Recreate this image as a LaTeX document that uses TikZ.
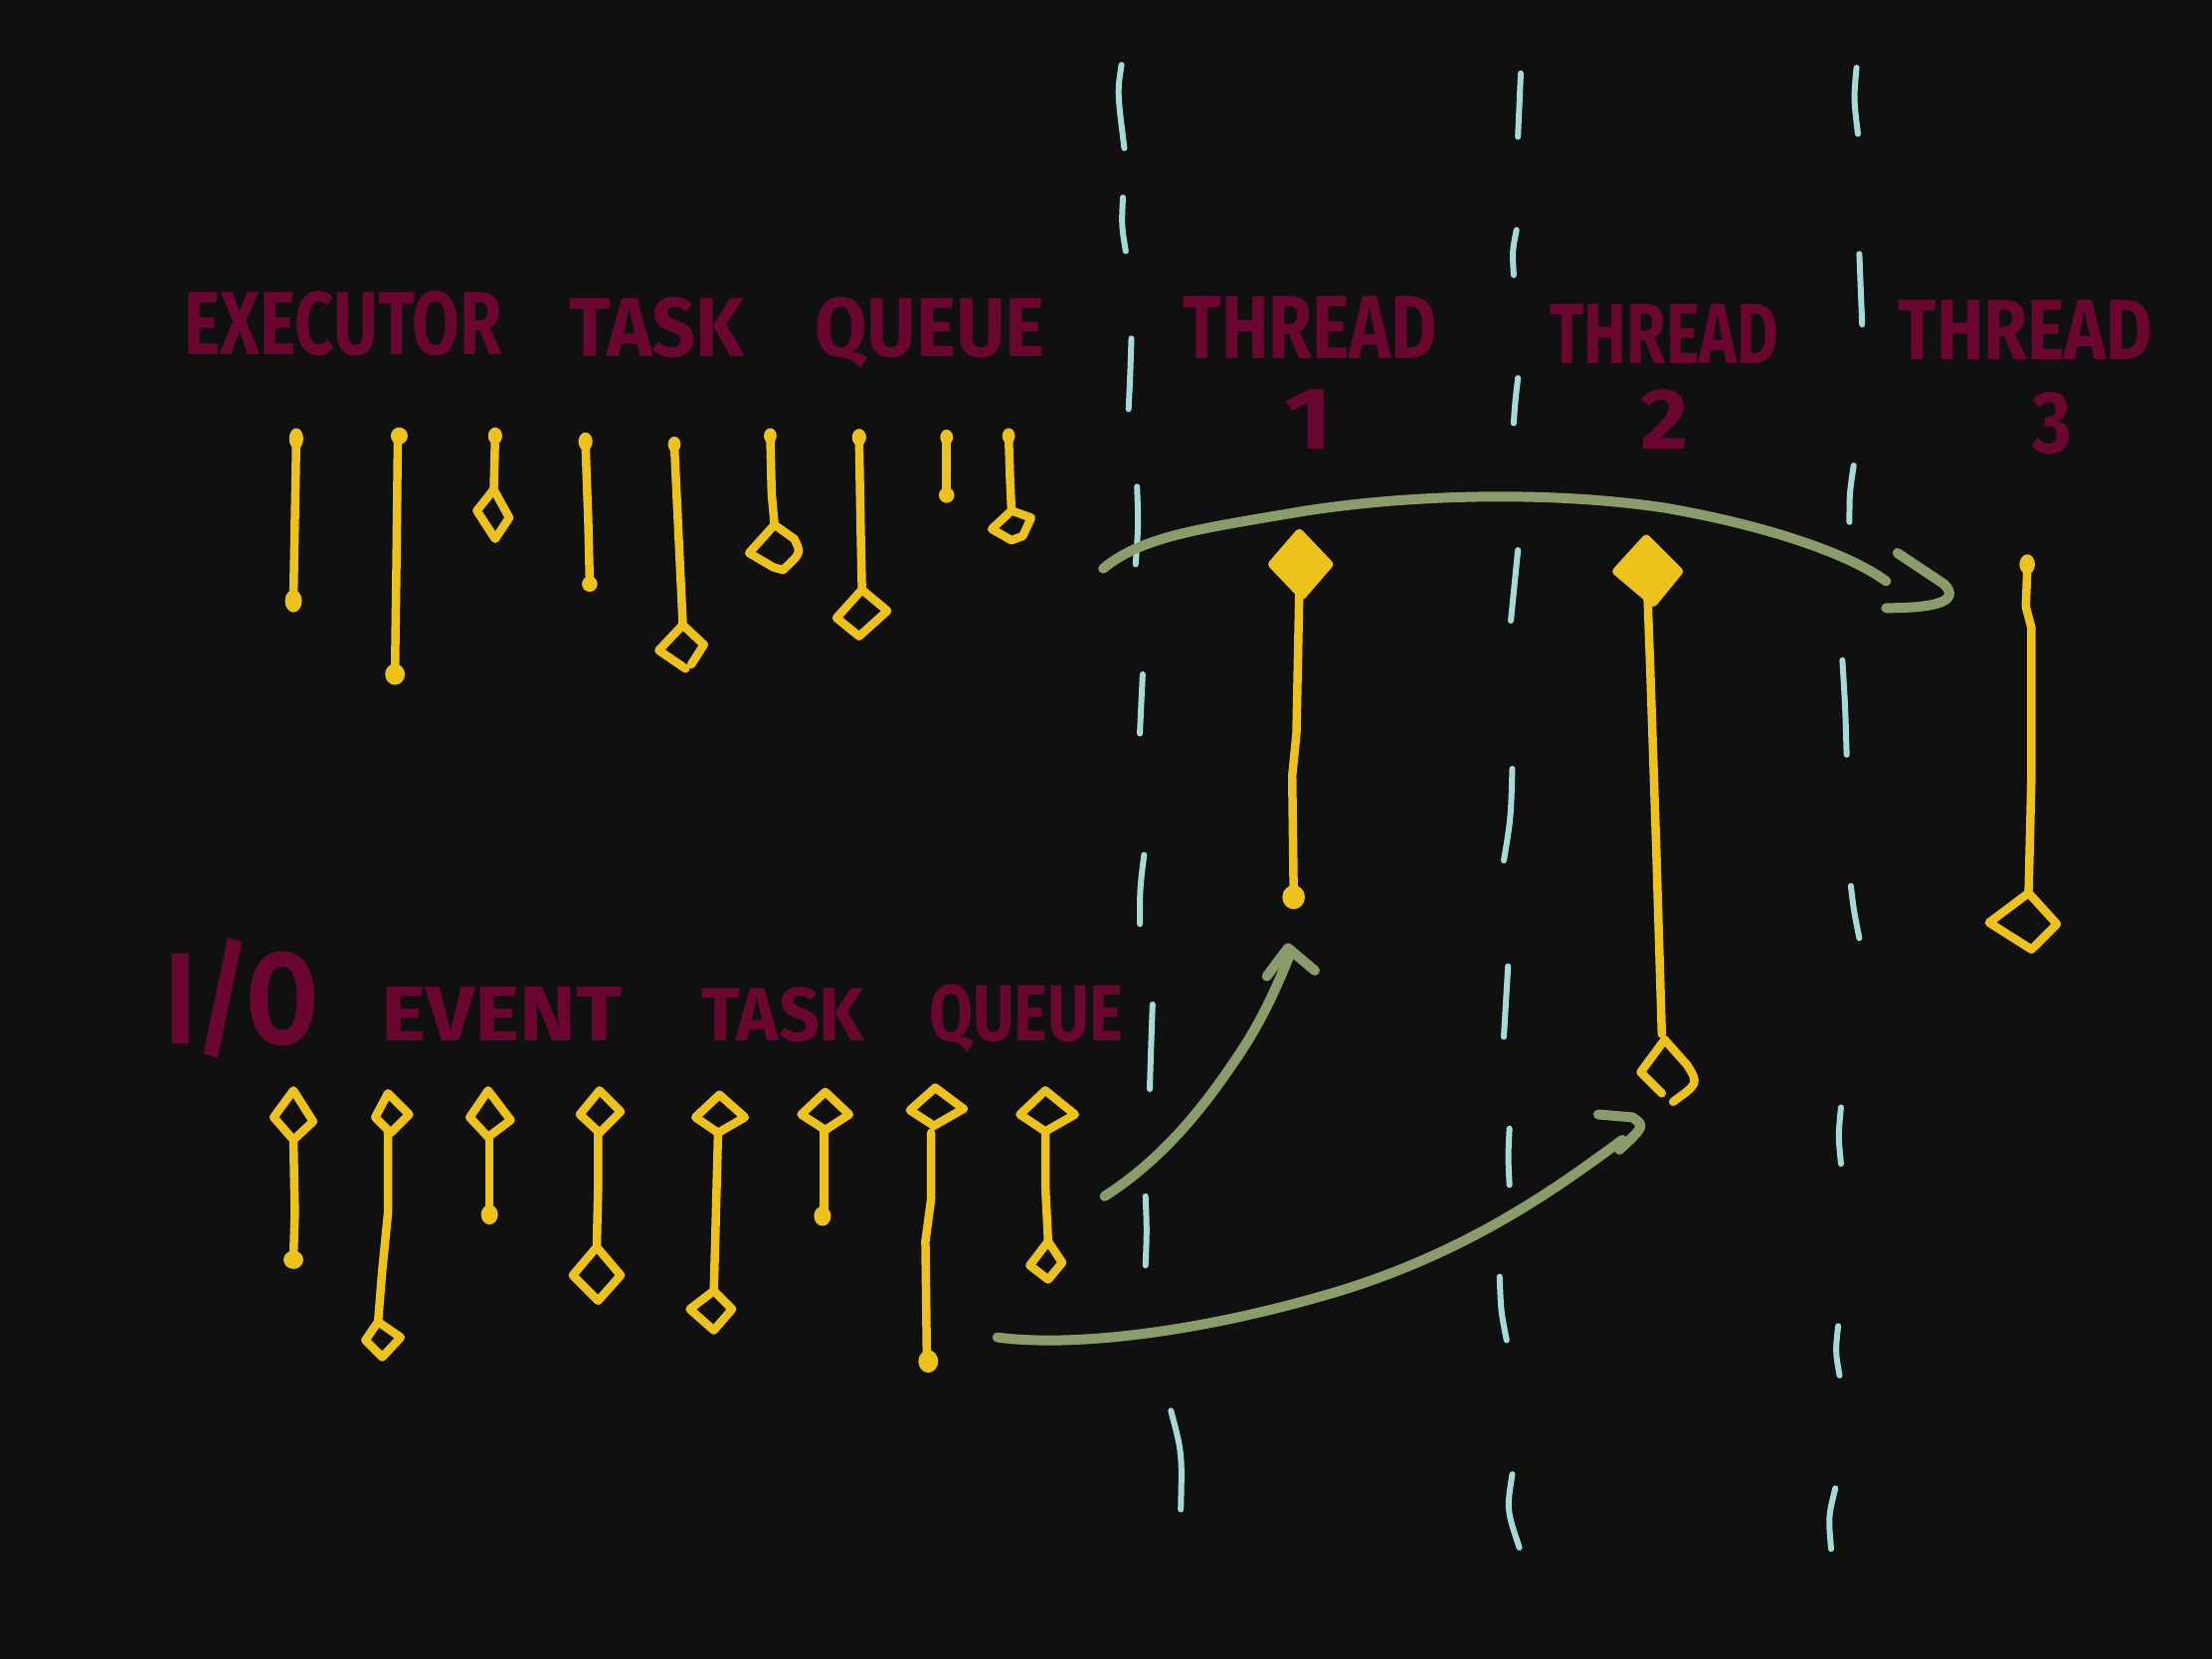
\documentclass[tikz,border=0pt]{standalone}
\usepackage{fontspec}
\setmainfont{Fira Sans}
\definecolor{bg}{HTML}{101010}
\definecolor{maroon}{HTML}{6B0630}
\definecolor{tyel}{HTML}{EDC21B}
\definecolor{lane}{HTML}{A6DAD9}
\definecolor{flow}{HTML}{8B9C6B}
\newcommand\handtext[3]{\resizebox{#1}{#2}{\bfseries #3}}
\tikzset{
  lbl/.style={text=maroon, inner sep=0pt, anchor=base west},
  task/.style={draw=tyel, line width=1.7pt, line cap=round, line join=round},
  solidtask/.style={draw=tyel, fill=tyel, line width=1.7pt, line join=round},
  lanedash/.style={draw=lane, line width=1.2pt, line cap=round},
  flowarrow/.style={draw=flow, line width=2pt, line cap=round, line join=round},
}
\begin{document}
\begin{tikzpicture}[x=0.01cm,y=-0.01cm]
\path[fill=bg] (0,0) rectangle (1568,1176);
\useasboundingbox (0,0) rectangle (1568,1176);

% thread lanes (dashed)
\foreach \xa/\ya/\xb/\yb/\xc/\yc in {
 795/46/792/65/797/105, 796/140/795/160/798/178, 802/240/801/270/800/290,
 806/345/807/372/805/400, 810/478/809/498/808/520, 811/606/808/630/808/655,
 817/712/816/740/815/772, 812/848/813/872/812/897, 830/1000/838/1030/837/1070,
 1078/52/1077/75/1076/97, 1075/163/1072/178/1073/195, 1076/268/1074/285/1073/300,
 1076/390/1073/415/1071/440, 1072/545/1071/580/1066/610, 1069/685/1068/710/1066/735,
 1070/800/1069/820/1070/840, 1063/905/1064/930/1068/950, 1072/1045/1068/1070/1077/1097,
 1316/48/1314/70/1317/95, 1318/180/1319/205/1320/230, 1314/330/1311/350/1311/370,
 1306/468/1308/500/1309/535, 1312/628/1314/645/1318/665, 1305/785/1303/805/1305/825,
 1303/940/1301/958/1304/975, 1301/1055/1296/1075/1298/1098}
 \draw[lanedash] (\xa,\ya) .. controls (\xb,\yb) .. (\xc,\yc);

% labels
\node[lbl] (lblExecutor) at (130,251) {\handtext{2.25cm}{0.45cm}{EXECUTOR}};
\node[lbl] (lblTaskA) at (403,253) {\handtext{1.24cm}{0.42cm}{TASK}};
\node[lbl] (lblQueueA) at (577,253) {\handtext{1.63cm}{0.42cm}{QUEUE}};
\node[lbl] (lblThreadA) at (838,254) {\handtext{1.80cm}{0.44cm}{THREAD}};
\node[lbl] (lblNumA) at (910,318) {\handtext{0.34cm}{0.42cm}{1}};
\node[lbl] (lblThreadB) at (1098,258) {\handtext{1.62cm}{0.42cm}{THREAD}};
\node[lbl] (lblNumB) at (1162,318) {\handtext{0.34cm}{0.42cm}{2}};
\node[lbl] (lblThreadC) at (1345,255) {\handtext{1.80cm}{0.42cm}{THREAD}};
\node[lbl] (lblNumC) at (1440,321) {\handtext{0.28cm}{0.43cm}{3}};
\node[lbl] (lblIO) at (117,740) {\handtext{1.08cm}{0.75cm}{I/O}};
\node[lbl] (lblEvent) at (270,738) {\handtext{1.70cm}{0.38cm}{EVENT}};
\node[lbl] (lblTaskB) at (497,738) {\handtext{1.15cm}{0.38cm}{TASK}};
\node[lbl] (lblQueueB) at (658,738) {\handtext{1.37cm}{0.40cm}{QUEUE}};

% arrows
\coordinate (fromExec) at (782,403);
\coordinate (toThreadC) at (1337,412);
\draw[flowarrow] (fromExec) .. controls (810,380) and (850,375) .. (920,363)
  .. controls (1000,350) and (1100,348) .. (1180,360)
  .. controls (1250,372) and (1310,392) .. (toThreadC);
\draw[flowarrow] (1345,392) -- (1378,414) .. controls (1392,428) and (1365,431) .. (1337,431);

\coordinate (fromIOa) at (783,848);
\coordinate (toThreadA) at (915,675);
\draw[flowarrow] (fromIOa) .. controls (830,818) and (860,775) .. (880,745)
  .. controls (895,722) and (905,700) .. (toThreadA);
\draw[flowarrow] (898,692) -- (913,672) -- (932,688);

\coordinate (fromIOb) at (707,948);
\coordinate (toThreadB) at (1150,808);
\draw[flowarrow] (fromIOb) .. controls (760,955) and (850,945) .. (950,915)
  .. controls (1040,887) and (1100,845) .. (toThreadB);
\draw[flowarrow] (1133,790) -- (1157,792) .. controls (1166,798) .. (1148,815);

% executor task queue
\draw[task] (210,313) -- (209,370) -- (208,424);
\fill[tyel] (210,311) ellipse [x radius=0.05cm, y radius=0.075cm];
\fill[tyel] (208,426) ellipse [x radius=0.06cm, y radius=0.08cm];
\draw[task] (282,310) -- (281,400) -- (280,476);
\fill[tyel] (283,309) ellipse [x radius=0.06cm, y radius=0.06cm];
\fill[tyel] (280,478) ellipse [x radius=0.07cm, y radius=0.075cm];
\draw[task] (351,310) -- (350,347);
\fill[tyel] (351,309) ellipse [x radius=0.05cm, y radius=0.06cm];
\draw[task] (350,347) -- (361,367) -- (351,382) -- (338,362) -- cycle;
\draw[task] (415,314) -- (417,370) -- (418,412);
\fill[tyel] (415,313) ellipse [x radius=0.05cm, y radius=0.065cm];
\fill[tyel] (418,414) ellipse [x radius=0.055cm, y radius=0.055cm];
\draw[task] (478,316) -- (482,400) -- (484,442);
\fill[tyel] (478,315) ellipse [x radius=0.045cm, y radius=0.055cm];
\draw[task] (484,443) -- (499,457) -- (490,471);
\draw[task] (486,474) -- (467,461) -- (484,443);
\draw[task] (546,310) -- (547,350) -- (549,372);
\fill[tyel] (546,309) ellipse [x radius=0.045cm, y radius=0.055cm];
\draw[task] (549,372) -- (563,382) .. controls (568,392) .. (555,404) -- (548,402) -- (531,392) -- cycle;
\draw[task] (609,311) -- (610,370) -- (611,417);
\fill[tyel] (609,310) ellipse [x radius=0.05cm, y radius=0.06cm];
\draw[task] (611,418) -- (629,433) -- (609,451) -- (593,438) -- cycle;
\draw[task] (671,311) -- (671,350);
\fill[tyel] (671,310) ellipse [x radius=0.045cm, y radius=0.055cm];
\fill[tyel] (671,351) ellipse [x radius=0.055cm, y radius=0.055cm];
\draw[task] (715,310) -- (716,340) -- (717,362);
\fill[tyel] (715,309) ellipse [x radius=0.045cm, y radius=0.055cm];
\draw[task] (717,362) -- (731,367) -- (725,380) -- (717,383) -- (703,375) -- cycle;

% thread tasks
\draw[solidtask] (921,378) -- (942,400) -- (923,422) -- (902,400) -- cycle;
\draw[task] (921,420) -- (920,470) -- (919,520) -- (916,550) -- (917,630);
\fill[tyel] (917,636) ellipse [x radius=0.08cm, y radius=0.085cm];

\draw[solidtask] (1167,382) -- (1190,405) -- (1172,427) -- (1146,405) -- cycle;
\draw[task] (1168,425) -- (1170,480) -- (1174,600) -- (1178,733);
\draw[task] (1180,737) -- (1196,755) .. controls (1204,768) .. (1186,781);
\draw[task] (1178,775) -- (1163,760) -- (1180,737);

\fill[tyel] (1437,400) ellipse [x radius=0.055cm, y radius=0.07cm];
\draw[task] (1437,405) -- (1436,430) -- (1440,445) -- (1440,550) -- (1438,632);
\draw[task] (1438,633) -- (1458,655) -- (1440,673) -- (1410,654) -- cycle;

% I/O event task queue
\draw[task] (208,773) -- (222,795) -- (208,808) -- (194,792) -- cycle;
\draw[task] (208,808) -- (209,860) -- (208,891);
\fill[tyel] (208,893) ellipse [x radius=0.07cm, y radius=0.065cm];

\draw[task] (275,775) -- (290,790) -- (277,803) -- (266,792) -- cycle;
\draw[task] (275,803) -- (275,860) -- (271,900) -- (268,937);
\draw[task] (268,937) -- (284,948) -- (271,962) -- (259,950) -- cycle;

\draw[task] (346,773) -- (362,794) -- (346,806) -- (333,792) -- cycle;
\draw[task] (347,806) -- (347,858);
\fill[tyel] (347,861) ellipse [x radius=0.06cm, y radius=0.07cm];

\draw[task] (425,773) -- (440,788) -- (425,803) -- (411,790) -- cycle;
\draw[task] (424,803) -- (424,840) -- (423,884);
\draw[task] (423,884) -- (440,904) -- (424,922) -- (406,904) -- cycle;

\draw[task] (510,776) -- (528,792) -- (509,803) -- (493,792) -- cycle;
\draw[task] (509,803) -- (507,880) -- (506,915);
\draw[task] (506,915) -- (519,928) -- (506,943) -- (489,928) -- cycle;

\draw[task] (585,774) -- (602,790) -- (585,801) -- (568,790) -- cycle;
\draw[task] (584,801) -- (584,857);
\fill[tyel] (583,862) ellipse [x radius=0.06cm, y radius=0.07cm];

\draw[task] (663,771) -- (683,786) -- (662,798) -- (645,787) -- cycle;
\draw[task] (660,803) -- (660,850) -- (656,880) -- (657,962);
\fill[tyel] (658,965) ellipse [x radius=0.07cm, y radius=0.08cm];

\draw[task] (741,773) -- (762,790) -- (741,802) -- (723,790) -- cycle;
\draw[task] (741,802) -- (741,840) -- (743,880);
\draw[task] (743,880) -- (753,895) -- (743,907) -- (730,897) -- cycle;
\end{tikzpicture}
\end{document}
